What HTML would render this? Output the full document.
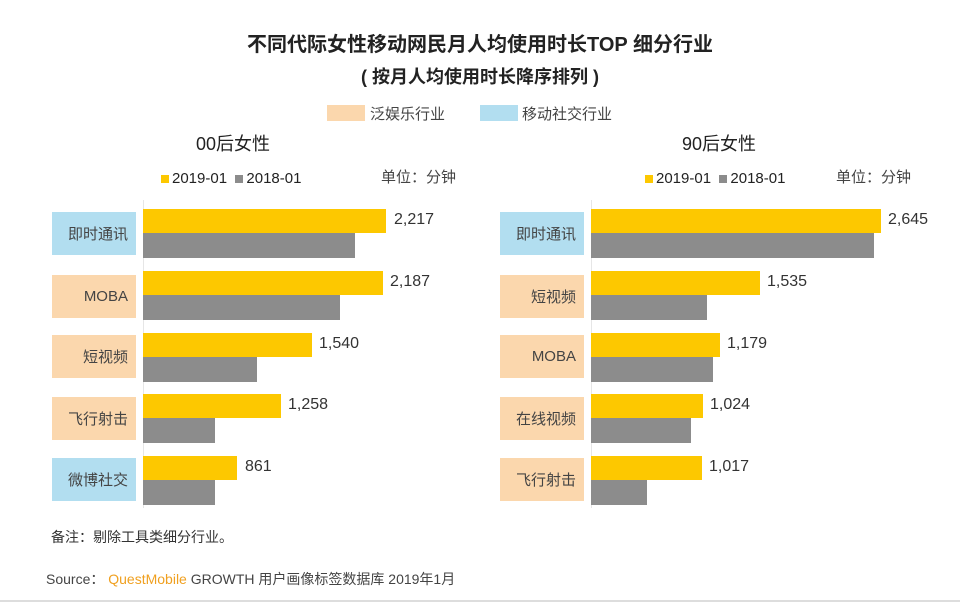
<!DOCTYPE html>
<html><head><meta charset="utf-8"><style>
body{margin:0;background:#fff;}
#c{position:relative;width:960px;height:602px;overflow:hidden;background:#fff;font-family:"Liberation Sans","Noto Sans CJK SC",sans-serif;color:#222;}
.a{position:absolute;white-space:nowrap;}
.lb{position:absolute;width:84px;height:43px;font-size:15px;color:#444;display:flex;align-items:center;justify-content:flex-end;padding-right:8px;box-sizing:border-box;}
.o{background:#fbd7ad;}.b{background:#b2def0;}
.y{position:absolute;background:#fdc800;height:24px;}
.g{position:absolute;background:#8c8c8c;height:25px;}
.v{position:absolute;font-size:16px;color:#333;}
</style></head><body><div id="c">
<div class="a" style="left:0;width:960px;top:28px;text-align:center;font-size:20px;font-weight:bold;">不同代际女性移动网民月人均使用时长TOP 细分行业</div>
<div class="a" style="left:0;width:960px;top:63px;text-align:center;font-size:18px;font-weight:bold;">( 按月人均使用时长降序排列 )</div>
<div class="a o" style="left:327px;top:105px;width:38px;height:16px;"></div>
<div class="a" style="left:370px;top:103px;font-size:15px;color:#444;">泛娱乐行业</div>
<div class="a b" style="left:480px;top:105px;width:38px;height:16px;"></div>
<div class="a" style="left:522px;top:103px;font-size:15px;color:#444;">移动社交行业</div>
<div class="a" style="left:196px;top:130px;font-size:18px;">00后女性</div>
<div class="a" style="left:682px;top:130px;font-size:18px;">90后女性</div>
<div class="a" style="left:161px;top:170px;font-size:15px;"><span style="display:inline-block;width:8px;height:8px;background:#fdc800;margin-right:3px"></span>2019-01 &nbsp;<span style="display:inline-block;width:8px;height:8px;background:#8c8c8c;margin-right:3px"></span>2018-01</div>
<div class="a" style="left:381px;top:166px;font-size:15px;color:#444;">单位：分钟</div>
<div class="a" style="left:645px;top:170px;font-size:15px;"><span style="display:inline-block;width:8px;height:8px;background:#fdc800;margin-right:3px"></span>2019-01 &nbsp;<span style="display:inline-block;width:8px;height:8px;background:#8c8c8c;margin-right:3px"></span>2018-01</div>
<div class="a" style="left:836px;top:166px;font-size:15px;color:#444;">单位：分钟</div>
<div class="a" style="left:143px;top:200px;width:1px;height:308px;background:#e6e6e6"></div>
<div class="a" style="left:591px;top:200px;width:1px;height:308px;background:#e6e6e6"></div>

<div class="lb b" style="left:52px;top:212px;">即时通讯</div>
<div class="lb o" style="left:52px;top:275px;">MOBA</div>
<div class="lb o" style="left:52px;top:335px;">短视频</div>
<div class="lb o" style="left:52px;top:397px;">飞行射击</div>
<div class="lb b" style="left:52px;top:458px;">微博社交</div>
<div class="y" style="left:143px;top:209px;width:243px"></div><div class="g" style="left:143px;top:233px;width:212px"></div><div class="v" style="left:394px;top:211px">2,217</div>
<div class="y" style="left:143px;top:271px;width:240px"></div><div class="g" style="left:143px;top:295px;width:197px"></div><div class="v" style="left:390px;top:273px">2,187</div>
<div class="y" style="left:143px;top:333px;width:169px"></div><div class="g" style="left:143px;top:357px;width:114px"></div><div class="v" style="left:319px;top:335px">1,540</div>
<div class="y" style="left:143px;top:394px;width:138px"></div><div class="g" style="left:143px;top:418px;width:72px"></div><div class="v" style="left:288px;top:396px">1,258</div>
<div class="y" style="left:143px;top:456px;width:94px"></div><div class="g" style="left:143px;top:480px;width:72px"></div><div class="v" style="left:245px;top:458px">861</div>

<div class="lb b" style="left:500px;top:212px;">即时通讯</div>
<div class="lb o" style="left:500px;top:275px;">短视频</div>
<div class="lb o" style="left:500px;top:335px;">MOBA</div>
<div class="lb o" style="left:500px;top:397px;">在线视频</div>
<div class="lb o" style="left:500px;top:458px;">飞行射击</div>
<div class="y" style="left:591px;top:209px;width:290px"></div><div class="g" style="left:591px;top:233px;width:283px"></div><div class="v" style="left:888px;top:211px">2,645</div>
<div class="y" style="left:591px;top:271px;width:169px"></div><div class="g" style="left:591px;top:295px;width:116px"></div><div class="v" style="left:767px;top:273px">1,535</div>
<div class="y" style="left:591px;top:333px;width:129px"></div><div class="g" style="left:591px;top:357px;width:122px"></div><div class="v" style="left:727px;top:335px">1,179</div>
<div class="y" style="left:591px;top:394px;width:112px"></div><div class="g" style="left:591px;top:418px;width:100px"></div><div class="v" style="left:710px;top:396px">1,024</div>
<div class="y" style="left:591px;top:456px;width:111px"></div><div class="g" style="left:591px;top:480px;width:56px"></div><div class="v" style="left:709px;top:458px">1,017</div>

<div class="a" style="left:51px;top:527px;font-size:14px;color:#333;">备注：剔除工具类细分行业。</div>
<div class="a" style="left:46px;top:569px;font-size:14px;color:#444;">Source： <span style="color:#f0a020">QuestMobile</span> GROWTH 用户画像标签数据库 2019年1月</div>
<div class="a" style="left:0;top:600px;width:960px;height:2px;background:#ddd"></div>
</div></body></html>
